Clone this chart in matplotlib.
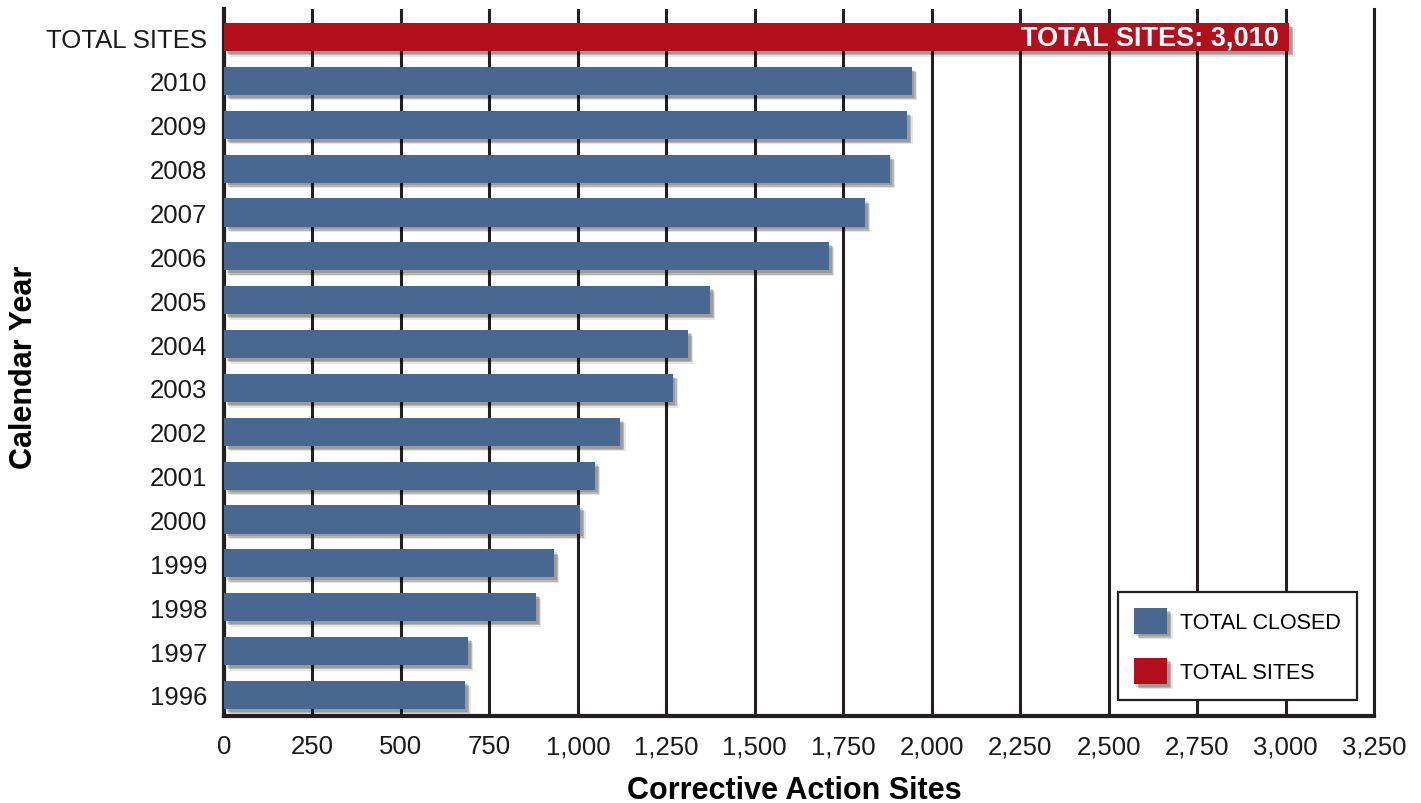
import matplotlib
matplotlib.use('Agg')
import matplotlib.pyplot as plt
import matplotlib.patches as mpatches
import matplotlib.patheffects as pe
import matplotlib.ticker as ticker
import numpy as np

plt.rcParams['font.family'] = ['Liberation Sans', 'DejaVu Sans']

# ── Data ──────────────────────────────────────────────────────────────────────
YEARS        = ['2010', '2009', '2008', '2007', '2006', '2005', '2004', '2003',
                '2002', '2001', '2000', '1999', '1998', '1997', '1996']
TOTAL_CLOSED = [1943, 1930, 1881, 1811, 1709, 1373, 1311, 1268,
                1119, 1048, 1006, 932, 881, 689, 681]
TOTAL_SITES  = 3010
X_TICKS      = [0, 250, 500, 750, 1000, 1250, 1500, 1750, 2000, 2250, 2500, 2750, 3000, 3250]

BLUE = '#486892'
RED  = '#B20E1C'
INK  = '#231F20'

shadow = [pe.SimplePatchShadow(offset=(4, -4), shadow_rgbFace='#000000', alpha=0.10),
          pe.SimplePatchShadow(offset=(3, -3), shadow_rgbFace='#000000', alpha=0.20),
          pe.SimplePatchShadow(offset=(2, -2), shadow_rgbFace='#000000', alpha=0.15),
          pe.Normal()]

fig = plt.figure(figsize=(14.21, 8.04), dpi=100)
fig.patch.set_facecolor('white')
ax = fig.add_axes([0.1576, 0.1082, 0.8094, 0.8794])

# rows: 1996 at the bottom (0) ... 2010, TOTAL SITES on top
labels = YEARS[::-1] + ['TOTAL SITES']
y = np.arange(len(labels))
vals = TOTAL_CLOSED[::-1]

ax.barh(y[:-1], vals, height=0.64, color=BLUE, zorder=3, path_effects=shadow)
ax.barh(y[-1], TOTAL_SITES, height=0.64, color=RED, zorder=3, path_effects=shadow)
ax.text(TOTAL_SITES - 28, y[-1], f"TOTAL SITES: {TOTAL_SITES:,}", ha='right', va='center',
        color='white', fontsize=19.5, fontweight='bold', zorder=4)

ax.set_xlim(0, 3250)
ax.set_ylim(-0.48, len(labels) - 1 + 0.64)
ax.set_xticks(X_TICKS)
ax.xaxis.set_major_formatter(ticker.FuncFormatter(lambda v, _: f"{int(v):,}"))
ax.set_yticks(y)
ax.set_yticklabels(labels)
ax.tick_params(axis='both', length=0, labelsize=18.5, colors='#1a1a1a')
ax.tick_params(axis='y', pad=12)
ax.tick_params(axis='x', pad=13)

ax.grid(axis='x', color=INK, linewidth=2.2)
ax.grid(axis='y', visible=False)
ax.set_axisbelow(True)

ax.spines['top'].set_visible(False)
for s in ['left', 'bottom']:
    ax.spines[s].set_linewidth(3)
    ax.spines[s].set_color(INK)
ax.spines['right'].set_linewidth(2.2)
ax.spines['right'].set_color(INK)

ax.set_xlabel("Corrective Action Sites", fontsize=22, fontweight='bold', va='center')
ax.xaxis.set_label_coords(0.496, -0.1047)
ax.set_ylabel("Calendar Year", fontsize=22, fontweight='bold', va='center')
ax.yaxis.set_label_coords(-0.174, 0.494)

handles = [mpatches.Patch(facecolor=BLUE, label='TOTAL CLOSED', path_effects=shadow),
           mpatches.Patch(facecolor=RED, label='TOTAL SITES', path_effects=shadow)]
leg = ax.legend(handles=handles, loc='lower right', bbox_to_anchor=(0.985, 0.0226),
                fontsize=15.5, frameon=True, fancybox=False, handlelength=1.55,
                handleheight=1.45, handletextpad=0.6, labelspacing=1.15,
                borderpad=0.75, borderaxespad=0)
leg.get_frame().set_edgecolor(INK)
leg.get_frame().set_linewidth(1.6)
leg.get_frame().set_facecolor('white')
leg.get_frame().set_alpha(1)
leg.set_zorder(5)

fig.savefig('out.png', dpi=100, facecolor='white')
